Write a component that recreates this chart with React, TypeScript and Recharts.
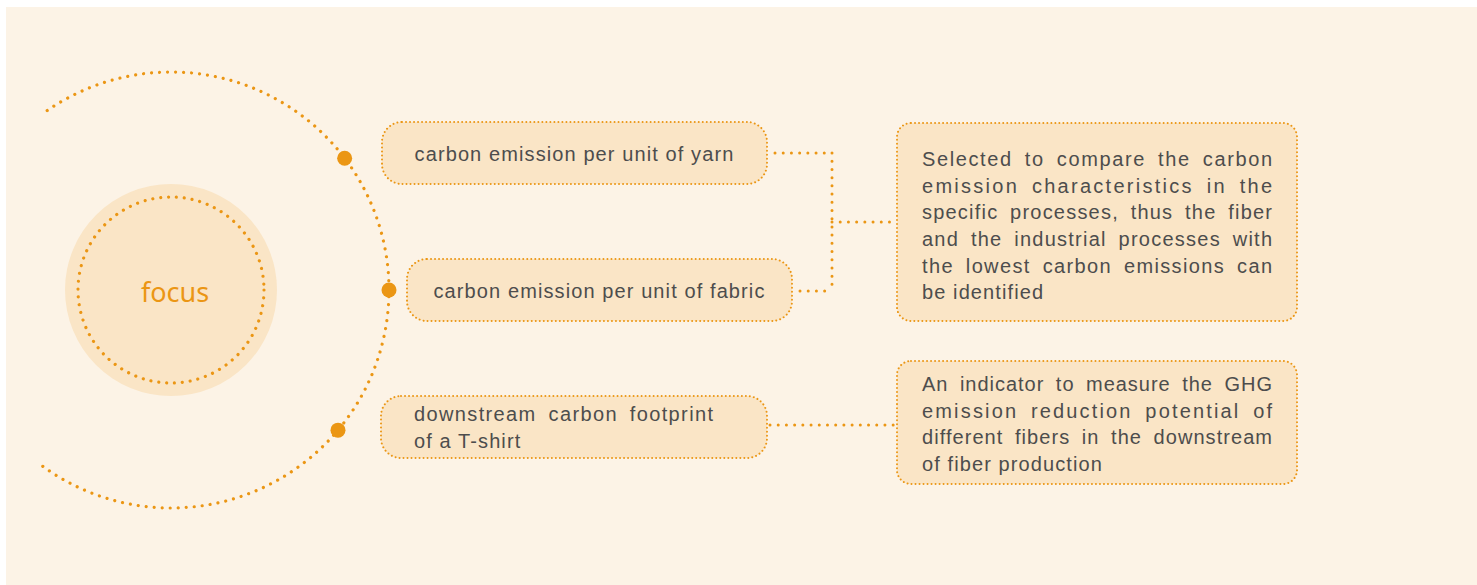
import React from 'react';
import { ComposedChart, XAxis, YAxis, ReferenceArea, ReferenceLine, ReferenceDot } from 'recharts';

// ---- content ----
const focusLabel = 'focus';

const metricLabels = [
  ['carbon emission per unit of yarn'],
  ['carbon emission per unit of fabric'],
  ['downstream carbon footprint', 'of a T-shirt'],
];

const descriptionLines = [
  [
    'Selected to compare the carbon',
    'emission characteristics in the',
    'specific processes, thus the fiber',
    'and the industrial processes with',
    'the lowest carbon emissions can',
    'be identified',
  ],
  [
    'An indicator to measure the GHG',
    'emission reduction potential of',
    'different fibers in the downstream',
    'of fiber production',
  ],
];

// ---- layout (chart units = px, domain 0..W / 0..H) ----
const W = 1477;
const H = 585;

const ORANGE = '#eb9614';
const PEACH = '#fae5c6';
const CREAM = '#fcf3e6';
const INK = '#4d4d4d';
const SANS = "'Liberation Sans', Arial, sans-serif";
const LINE_H = 26.67;

const hub = { x: 171, y: 290, r: 218, disc: 106, ring: 93 };
const arcFrom = 124.6;
const arcTo = -126.5;
const markerAngles = [37.2, 0, -40];

// padLeft 0 -> centred single line
const pills = [
  { x1: 382, x2: 767, y1: 122, y2: 184, padLeft: 0, textWidth: 0, base: 39 },
  { x1: 407, x2: 792, y1: 259, y2: 321, padLeft: 0, textWidth: 0, base: 39 },
  { x1: 381, x2: 767, y1: 396, y2: 458, padLeft: 33, textWidth: 299, base: 25 },
];

const boxes = [
  { x1: 897, x2: 1297, y1: 123, y2: 321, base: 43 },
  { x1: 897, x2: 1297, y1: 361, y2: 484, base: 30 },
];

const connectors = [
  [{ x: 775, y: 153 }, { x: 832, y: 153 }],
  [{ x: 800, y: 291 }, { x: 832, y: 291 }],
  [{ x: 832, y: 153 }, { x: 832, y: 291 }],
  [{ x: 832, y: 222 }, { x: 897, y: 222 }],
  [{ x: 770, y: 425 }, { x: 897, y: 425 }],
];

const rad = (d: number) => (d * Math.PI) / 180;

const HubShape = (p: any) => {
  const cx = p.x + p.width / 2;
  const cy = p.y + p.height / 2;
  const R = p.width / 2;
  const k = R / hub.r;
  const sx = cx + R * Math.cos(rad(arcFrom));
  const sy = cy - R * Math.sin(rad(arcFrom));
  const ex = cx + R * Math.cos(rad(arcTo));
  const ey = cy - R * Math.sin(rad(arcTo));
  return (
    <g>
      <path
        d={`M${sx},${sy} A${R},${R} 0 1 1 ${ex},${ey}`}
        fill="none"
        stroke={ORANGE}
        strokeWidth={3.2}
        strokeLinecap="round"
        strokeDasharray="0.01 8"
      />
      <circle cx={cx} cy={cy} r={hub.disc * k} fill={PEACH} />
      <circle
        cx={cx}
        cy={cy}
        r={hub.ring * k}
        fill="none"
        stroke={ORANGE}
        strokeWidth={3.2}
        strokeLinecap="round"
        strokeDasharray="0.01 7.9"
      />
      <text
        x={cx + 4}
        y={cy + 12}
        textAnchor="middle"
        fill={ORANGE}
        fontFamily="'Noto Sans', 'Open Sans', sans-serif"
        fontSize={27}
      >
        {focusLabel}
      </text>
    </g>
  );
};

// justified lines: wider word gaps, remaining slack spread over the glyphs
const TextLine = ({ x, y, text, width, anchor }: any) => (
  <text
    x={x}
    y={y}
    fill={INK}
    fontFamily={SANS}
    fontSize={20}
    letterSpacing={width ? undefined : 1.1}
    wordSpacing={width ? 5 : undefined}
    textAnchor={anchor || 'start'}
    textLength={width || undefined}
    lengthAdjust={width ? 'spacing' : undefined}
  >
    {text}
  </text>
);

const Frame = ({ p, rx }: any) => (
  <rect
    x={p.x}
    y={p.y}
    width={p.width}
    height={p.height}
    rx={rx}
    ry={rx}
    fill={PEACH}
    stroke={ORANGE}
    strokeWidth={2}
    strokeLinecap="round"
    strokeDasharray="0.01 4"
  />
);

const makePillShape = (idx: number) => (p: any) => {
  const cfg = pills[idx];
  const lines = metricLabels[idx];
  const centred = cfg.padLeft === 0;
  return (
    <g>
      <Frame p={p} rx={20} />
      {lines.map((l, i) => (
        <TextLine
          key={i}
          x={centred ? p.x + p.width / 2 : p.x + cfg.padLeft}
          y={p.y + cfg.base + i * LINE_H}
          text={l}
          anchor={centred ? 'middle' : 'start'}
          width={!centred && i < lines.length - 1 ? cfg.textWidth : 0}
        />
      ))}
    </g>
  );
};

const makeBoxShape = (idx: number) => (p: any) => {
  const cfg = boxes[idx];
  const lines = descriptionLines[idx];
  return (
    <g>
      <Frame p={p} rx={14} />
      {lines.map((l, i) => (
        <TextLine
          key={i}
          x={p.x + 25}
          y={p.y + cfg.base + i * LINE_H}
          text={l}
          width={i < lines.length - 1 ? 350 : 0}
        />
      ))}
    </g>
  );
};

export default function App() {
  return (
    <div style={{ position: 'absolute', left: 0, top: 0, width: W, height: H }}>
      <ComposedChart width={W} height={H} margin={{ top: 0, right: 0, bottom: 0, left: 0 }} data={[]}>
        <XAxis type="number" dataKey="x" domain={[0, W]} hide allowDataOverflow />
        <YAxis type="number" dataKey="y" domain={[0, H]} reversed hide allowDataOverflow />

        <ReferenceArea
          x1={6}
          x2={W}
          y1={7}
          y2={H}
          ifOverflow="visible"
          shape={(p: any) => <rect x={p.x} y={p.y} width={p.width} height={p.height} fill={CREAM} />}
        />

        <ReferenceArea
          x1={hub.x - hub.r}
          x2={hub.x + hub.r}
          y1={hub.y - hub.r}
          y2={hub.y + hub.r}
          ifOverflow="visible"
          shape={HubShape}
        />

        {connectors.map((seg, i) => (
          <ReferenceLine
            key={`c${i}`}
            segment={seg}
            ifOverflow="visible"
            stroke={ORANGE}
            strokeWidth={3}
            strokeLinecap="round"
            strokeDasharray="0.01 8.2"
          />
        ))}

        {pills.map((b, i) => (
          <ReferenceArea
            key={`p${i}`}
            x1={b.x1}
            x2={b.x2}
            y1={b.y1}
            y2={b.y2}
            ifOverflow="visible"
            shape={makePillShape(i)}
          />
        ))}

        {boxes.map((b, i) => (
          <ReferenceArea
            key={`b${i}`}
            x1={b.x1}
            x2={b.x2}
            y1={b.y1}
            y2={b.y2}
            ifOverflow="visible"
            shape={makeBoxShape(i)}
          />
        ))}

        {markerAngles.map((a, i) => (
          <ReferenceDot
            key={`m${i}`}
            x={hub.x + hub.r * Math.cos(rad(a))}
            y={hub.y - hub.r * Math.sin(rad(a))}
            r={7.5}
            fill={ORANGE}
            stroke="none"
            ifOverflow="visible"
          />
        ))}
      </ComposedChart>
    </div>
  );
}
